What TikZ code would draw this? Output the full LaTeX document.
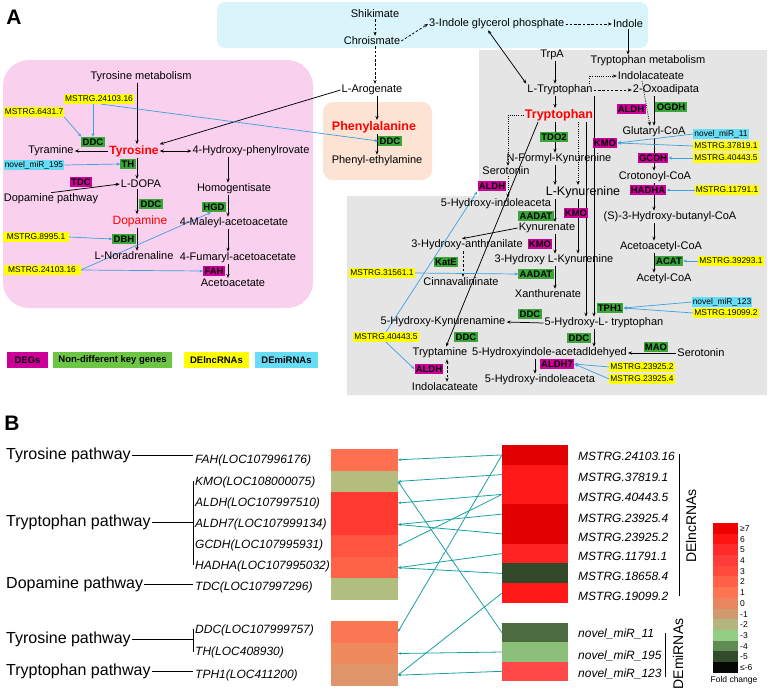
\documentclass[tikz,border=0pt]{standalone}
\usepackage{fontspec}
\setmainfont{Liberation Sans}
\usetikzlibrary{arrows.meta}
\pgfdeclarelayer{bg}\pgfdeclarelayer{lines}\pgfsetlayers{bg,lines,main}
\definecolor{mag}{RGB}{204,0,153}
\definecolor{grn}{RGB}{58,166,58}
\definecolor{lgrn}{RGB}{108,198,68}
\definecolor{ylw}{RGB}{255,255,0}
\definecolor{cyn}{RGB}{102,221,245}
\definecolor{blu}{RGB}{60,160,225}
\definecolor{pinkbg}{RGB}{249,208,238}
\definecolor{peachbg}{RGB}{252,227,211}
\definecolor{cyanbg}{RGB}{217,245,251}
\definecolor{greybg}{RGB}{229,229,229}
\definecolor{tealc}{RGB}{25,160,160}
% heat colours
\definecolor{hFAHc}{RGB}{255,112,80}
\definecolor{hKMOc}{RGB}{180,188,126}
\definecolor{hALDHc}{RGB}{255,58,48}
\definecolor{hGCDHc}{RGB}{255,85,64}
\definecolor{hHADHAc}{RGB}{255,99,71}
\definecolor{hTDCc}{RGB}{176,191,128}
\definecolor{hDDCc}{RGB}{250,118,84}
\definecolor{hTHc}{RGB}{238,138,94}
\definecolor{hTPHc}{RGB}{224,148,106}
\definecolor{rdark}{RGB}{224,0,0}
\definecolor{rmid}{RGB}{255,24,24}
\definecolor{rlight}{RGB}{255,36,36}
\definecolor{gdark}{RGB}{50,74,42}
\definecolor{mi1c}{RGB}{76,107,64}
\definecolor{mi2c}{RGB}{140,192,122}
\definecolor{mi3c}{RGB}{255,72,72}
\definecolor{sc1}{RGB}{238,0,0}
\definecolor{sc2}{RGB}{255,20,20}
\definecolor{sc3}{RGB}{255,42,42}
\definecolor{sc4}{RGB}{255,60,60}
\definecolor{sc5}{RGB}{255,74,60}
\definecolor{sc6}{RGB}{255,96,72}
\definecolor{sc7}{RGB}{255,117,82}
\definecolor{sc8}{RGB}{232,135,95}
\definecolor{sc9}{RGB}{208,154,110}
\definecolor{sc10}{RGB}{181,181,126}
\definecolor{sc11}{RGB}{146,207,132}
\definecolor{sc12}{RGB}{94,140,82}
\definecolor{sc13}{RGB}{51,74,43}
\definecolor{sc14}{RGB}{6,8,6}
\begin{document}
\begin{tikzpicture}[x=1pt,y=-1pt,
  lbl/.style={inner sep=1pt,font=\fontsize{11}{12}\selectfont},
  redlbl/.style={inner sep=1pt,text=red,font=\bfseries\fontsize{12.5}{13}\selectfont},
  tagb/.style={inner xsep=1.3pt,inner ysep=1.6pt,text height=7pt,text depth=0.2pt,font=\bfseries\fontsize{9.5}{10}\selectfont},
  tm/.style={tagb,fill=mag},
  tg/.style={tagb,fill=grn},
  ty/.style={inner xsep=1pt,inner ysep=1pt,text height=6.2pt,text depth=1.6pt,font=\fontsize{8.4}{9}\selectfont,fill=ylw},
  tc/.style={ty,fill=cyn},
  arr/.style={-{Stealth[length=4pt,width=3.2pt]},line width=0.75pt},
  darr/.style={{Stealth[length=4pt,width=3.2pt]}-{Stealth[length=4pt,width=3.2pt]},line width=0.75pt},
  barr/.style={-{Stealth[length=3.5pt,width=3pt]},line width=0.7pt,blu},
  dsh/.style={dash pattern=on 2.5pt off 1.8pt},
  dtt/.style={dash pattern=on 0.9pt off 1.3pt},
  legbox/.style={minimum height=16pt,inner sep=0pt,font=\bfseries\fontsize{9.5}{10}\selectfont},
  pw/.style={inner sep=1pt,font=\fontsize{16}{17}\selectfont},
  gl/.style={inner sep=1pt,font=\itshape\fontsize{12}{13}\selectfont},
  rl/.style={inner sep=1pt,font=\itshape\fontsize{12}{13}\selectfont},
  cellL/.style={minimum width=67pt,minimum height=21.7pt,inner sep=0pt,outer sep=0pt},
  cellR/.style={minimum width=66pt,minimum height=19.9pt,inner sep=0pt,outer sep=0pt},
  cellS/.style={minimum width=25pt,minimum height=10.9pt,inner sep=0pt,outer sep=0pt},
  tarr/.style={-{Stealth[length=3.2pt,width=2.6pt]},line width=0.8pt,tealc},
  bl/.style={line width=0.8pt}
]
\useasboundingbox (0,0) rectangle (768,691);
\begin{pgfonlayer}{bg}
\fill[cyanbg,rounded corners=8pt] (217,2) rectangle (648,48);
\fill[pinkbg,rounded corners=26pt] (3,60) rectangle (313,308);
\fill[peachbg,rounded corners=10pt] (323,102) rectangle (432,180);
\fill[greybg] (479,50) -- (767,50) -- (767,395) -- (347,395) -- (347,196) -- (479,196) -- cycle;
\end{pgfonlayer}

% column coordinates
\coordinate (cA) at (137,0);
\coordinate (cB) at (228,0);
\coordinate (cP) at (377,0);
\coordinate (cS) at (375,0);
\coordinate (cT) at (555,0);
\coordinate (cD) at (589,0);
\coordinate (cE) at (654,0);
\coordinate (cF) at (594,0);
\coordinate (cG) at (586,0);
\coordinate (cH) at (508,0);
\coordinate (cI) at (578,0);
\coordinate (cJ) at (463,0);
\coordinate (cK) at (535,0);
\coordinate (cL) at (447,0);

\node[font=\bfseries\fontsize{21}{21}\selectfont,inner sep=0pt] (labA) at (14,17) {A};
\node[font=\bfseries\fontsize{21}{21}\selectfont,inner sep=0pt] (labB) at (12,423) {B};

% cyan region
\node[lbl] (shik) at (375,14) {Shikimate};
\node[lbl] (chor) at (372,41) {Chroismate};
\node[lbl,anchor=west] (igp) at (428,24) {3-Indole glycerol phosphate};
\node[lbl] (indole) at (628,24) {Indole};

% pink region
\node[lbl] (tyrmet) at (141,77) {Tyrosine metabolism};
\node[ty] (m24103a) at (99,99) {MSTRG.24103.16};
\node[ty] (m6431) at (34,112) {MSTRG.6431.7};
\node[tg] (ddc1) at (93,142) {DDC};
\node[redlbl,font=\bfseries\fontsize{12}{13}\selectfont] (tyr) at (134,151) {Tyrosine};
\node[lbl] (tyra) at (51,151) {Tyramine};
\node[lbl] (hpp) at (251,151) {4-Hydroxy-phenylrovate};
\node[tg] (th) at (128,164) {TH};
\node[tc] (mir195) at (34,165) {novel\_miR\_195};
\node[tm] (tdc) at (81,182) {TDC};
\node[lbl] (ldopa) at (141,184) {L-DOPA};
\node[lbl] (dpath) at (51,199) {Dopamine pathway};
\node[lbl] (homo) at (234,189) {Homogentisate};
\node[tg] (ddc2) at (151,204) {DDC};
\node[tg] (hgd) at (214,207) {HGD};
\node[inner sep=1pt,text=red,font=\fontsize{12}{13}\selectfont] (dopa) at (140,221) {Dopamine};
\node[lbl] (mal) at (234,223) {4-Maleyl-acetoacetate};
\node[ty,minimum width=66pt] (m8995) at (36,237) {MSTRG.8995.1};
\node[tg] (dbh) at (124,239) {DBH};
\node[lbl] (nor) at (134,256) {L-Noradrenaline};
\node[lbl] (fum) at (238,258) {4-Fumaryl-acetoacetate};
\node[ty,minimum width=77pt] (m24103b) at (42,270) {MSTRG.24103.16};
\node[tm] (fah) at (214,271) {FAH};
\node[lbl] (acetoac) at (233,283) {Acetoacetate};

% phenylalanine
\node[lbl] (larog) at (372,90) {L-Arogenate};
\node[redlbl] (phe) at (374,127) {Phenylalanine};
\node[tg] (ddc6) at (390,141) {DDC};
\node[lbl] (pea) at (377,161) {Phenyl-ethylamine};

% grey upper
\node[lbl] (trpA) at (552,55) {TrpA};
\node[lbl] (trpmet) at (648,61) {Tryptophan metabolism};
\node[lbl] (indola) at (651,76) {Indolacateate};
\node[lbl] (ltrp) at (560,90) {L-Tryptophan};
\node[lbl] (oxo) at (666,90) {2-Oxoadipata};
\node[tm] (aldh1) at (631,109) {ALDH};
\node[tg] (ogdh) at (671,107) {OGDH};
\node[redlbl] (trp) at (559,115) {Tryptophan};
\node[lbl] (glut) at (654,132) {Glutaryl-CoA};
\node[tc] (mir11) at (721,134) {novel\_miR\_11};
\node[ty] (m37819) at (726,146) {MSTRG.37819.1};
\node[tm] (kmo1) at (605,143) {KMO};
\node[tm] (gcdh) at (653,158) {GCDH};
\node[ty] (m40443a) at (726,158) {MSTRG.40443.5};
\node[lbl] (crot) at (655,177) {Crotonoyl-CoA};
\node[tm] (hadha) at (648,190) {HADHA};
\node[ty] (m11791) at (727,190) {MSTRG.11791.1};
\node[lbl] (shb) at (670,217) {(S)-3-Hydroxy-butanyl-CoA};
\node[lbl] (acac) at (661,247) {Acetoacetyl-CoA};
\node[tg] (acat) at (669,261) {ACAT};
\node[ty] (m39293) at (731,261) {MSTRG.39293.1};
\node[lbl] (acetyl) at (664,279) {Acetyl-CoA};

% grey lower
\node[tg] (tdo2) at (554,137) {TDO2};
\node[lbl] (nfk) at (559,159) {N-Formyl-Kynurenine};
\node[lbl] (sero1) at (506,171) {Serotonin};
\node[tm] (aldh2) at (492,186) {ALDH};
\node[inner sep=1pt,font=\fontsize{12.5}{13}\selectfont] (lkyn) at (583,192) {L-Kynurenine};
\node[lbl] (hia3) at (496,204) {5-Hydroxy-indoleaceta};
\node[tm] (kmo2) at (576,213) {KMO};
\node[tg] (aadat1) at (536,216) {AADAT};
\node[lbl] (kyna) at (547,228) {Kynurenate};
\node[tm] (kmo3) at (540,244) {KMO};
\node[lbl] (hant) at (467,245) {3-Hydroxy-anthranilate};
\node[lbl] (hlk) at (554,260) {3-Hydroxy L-Kynurenine};
\node[tg] (kate) at (446,262) {KatE};
\node[ty] (m31561) at (382,273) {MSTRG.31561.1};
\node[tg] (aadat2) at (536,274) {AADAT};
\node[lbl] (cinn) at (461,282) {Cinnavalininate};
\node[lbl] (xan) at (548,294) {Xanthurenate};
\node[tc] (mir123) at (722,302) {novel\_miR\_123};
\node[tg] (tph1) at (610,308) {TPH1};
\node[ty] (m19099) at (726,313) {MSTRG.19099.2};
\node[tg] (ddc3) at (530,314) {DDC};
\node[lbl] (hkyn) at (443,322) {5-Hydroxy-Kynurenamine};
\node[lbl] (hlt) at (604,323) {5-Hydroxy-L- tryptophan};
\node[ty] (m40443b) at (386,337) {MSTRG.40443.5};
\node[tg] (ddc4) at (466,337) {DDC};
\node[tg] (ddc5) at (579,338) {DDC};
\node[tg] (mao) at (656,347) {MAO};
\node[lbl] (tryp) at (440,353) {Tryptamine};
\node[lbl] (hia) at (549.5,353) {5-Hydroxyindole-acetadldehyed};
\node[lbl] (sero2) at (701,353) {Serotonin};
\node[tm] (aldh7) at (557,364) {ALDH7};
\node[ty] (m23925b) at (642,367) {MSTRG.23925.2};
\node[tm] (aldh3) at (429,369) {ALDH};
\node[ty] (m23925a) at (642,379) {MSTRG.23925.4};
\node[lbl] (hia2) at (540,380) {5-Hydroxy-indoleaceta};
\node[lbl] (indola2) at (445,387) {Indolacateate};

% legend
\node[legbox,fill=mag,minimum width=41pt] (lg1) at (27.5,360) {DEGs};
\node[legbox,fill=lgrn,minimum width=119pt] (lg2) at (112.5,360) {Non-different key genes};
\node[legbox,fill=ylw,minimum width=65pt] (lg3) at (216.5,360) {DElncRNAs};
\node[legbox,fill=cyn,minimum width=63pt] (lg4) at (286.5,360) {DEmiRNAs};

\begin{pgfonlayer}{lines}
% cyan
\draw[arr,dsh] (shik.south -| cS) -- (chor.north -| cS);
\draw[arr,dsh] (chor.south -| cS) -- (larog.north -| cS);
\draw[arr,dsh] (chor.east) -- (igp.west);
\draw[arr,dsh] (igp.east) -- (indole.west);
\draw[arr] (indole.south) -- (indole.south |- trpmet.north);
\draw[darr] ([xshift=60pt]igp.south west) -- (ltrp.north west);
% pink
\draw[arr] (tyrmet.south -| cA) -- (tyr.north -| cA);
\draw[arr] (tyr.west) -- (tyra.east);
\draw[darr] (tyr.east) -- (hpp.west);
\draw[arr] (tyr.south -| cA) -- (ldopa.north -| cA);
\draw[arr] (dpath.north) -- (ldopa.west);
\draw[arr] (ldopa.south -| cA) -- (dopa.north -| cA);
\draw[arr] (dopa.south -| cA) -- (nor.north -| cA);
\draw[arr] (hpp.south -| cB) -- (homo.north -| cB);
\draw[arr] (homo.south -| cB) -- (mal.north -| cB);
\draw[arr] (mal.south -| cB) -- (fum.north -| cB);
\draw[arr] (fum.south -| cB) -- (acetoac.north -| cB);
\draw[arr] (larog.west) -- (tyr.north east);
\draw[arr] (larog.south -| cP) -- (phe.north -| cP);
\draw[arr] (phe.south -| cP) -- (pea.north -| cP);
\draw[barr] (m24103a.south -| ddc1) -- (ddc1.north);
\draw[barr] ([xshift=2pt]m24103a.south) -- (ddc6.west);
\draw[barr] (m6431.south east) -- (ddc1.north west);
\draw[barr] (mir195.east) -- (th.west);
\draw[barr] (m8995.east) -- (dbh.west);
\draw[barr] (m24103b.east) -- (fah.west);
\draw[barr] (m24103b.east) -- ([xshift=-3pt]hgd.south);
% grey
\draw[arr] (trpA.south -| cT) -- (ltrp.north -| cT);
\draw[arr] (ltrp.south -| cT) -- (trp.north -| cT);
\draw[arr,dtt] (ltrp.north -| cD) |- (indola.west);
\draw[arr,dsh] (ltrp.east) -- (oxo.west);
\draw[arr,dtt] ([xshift=-9pt]indola.south) -- ([xshift=-4pt]glut.north);
\draw[arr] (oxo.south -| cE) -- (glut.north -| cE);
\draw[arr] (glut.south -| cE) -- (crot.north -| cE);
\draw[arr] (crot.south -| cE) -- (shb.north -| cE);
\draw[arr] (shb.south -| cE) -- (acac.north -| cE);
\draw[arr] (acac.south -| cE) -- (acetyl.north -| cE);
\draw[arr] (ltrp.south -| cF) -- (hlt.north -| cF);
\draw[arr] (trp.south -| cG) -- (hlt.north -| cG);
\draw[arr,dtt] (trp.west) -| (sero1.north -| cH);
\draw[arr,dtt] (sero1.south -| cH) -- (hia3.north -| cH);
\draw[arr,dtt] (trp.south -| cI) -- (lkyn.north -| cI);
\draw[arr] (trp.south -| cT) -- (nfk.north -| cT);
\draw[arr] (nfk.south -| cT) -- (lkyn.north -| cT);
\draw[arr] (lkyn.south -| cT) -- (kyna.north -| cT);
\draw[arr] (kyna.south -| cT) -- (hlk.north -| cT);
\draw[arr] (hlk.south -| cT) -- (xan.north -| cT);
\draw[arr] (lkyn.south -| cI) -- (hlk.north -| cI);
\draw[arr] (kyna.west) -- ([xshift=-5pt]hant.north);
\draw[arr,dsh] (hant.south -| cJ) -- (cinn.north -| cJ);
\draw[arr] (hlt.west) -- (hkyn.east);
\draw[arr] (hlt.south -| cF) -- (hia.north -| cF);
\draw[arr] (sero2.west) -- (hia.east);
\draw[arr] (hia.south -| cK) -- (hia2.north -| cK);
\draw[arr] ([xshift=-21pt]trp.south) -- ([xshift=6pt]tryp.north);
\draw[darr,dsh] (tryp.south -| cL) -- (indola2.north -| cL);
\draw[barr] (mir11.west) -- (kmo1.east);
\draw[barr] (m37819.west) -- (kmo1.east);
\draw[barr] (m40443a.west) -- (gcdh.east);
\draw[barr] (m11791.west) -- (hadha.east);
\draw[barr] (m39293.west) -- (acat.east);
\draw[barr] (mir123.west) -- (tph1.east);
\draw[barr] (m19099.west) -- (tph1.east);
\draw[barr] (m23925b.west) -- (aldh7.east);
\draw[barr] (m23925a.west) -- (aldh7.east);
\draw[barr] (m31561.east) -- (aadat2.west);
\draw[barr] (m40443b.north) -- (aldh2.south west);
\draw[barr] (m40443b.south) -- (aldh3.west);
\end{pgfonlayer}

% ---------------- Panel B ----------------
\node[pw,anchor=west] (pt1) at (5,455) {Tyrosine pathway};
\node[pw,anchor=west] (pt2) at (5,522) {Tryptophan pathway};
\node[pw,anchor=west] (pt3) at (5,584) {Dopamine pathway};
\node[pw,anchor=west] (pt4) at (5,639) {Tyrosine pathway};
\node[pw,anchor=west] (pt5) at (5,671) {Tryptophan pathway};

\node[gl,anchor=west] (g1) at (194,460) {FAH(LOC107996176)};
\node[gl,anchor=west] (g2) at (194,482) {KMO(LOC108000075)};
\node[gl,anchor=west] (g3) at (194,503) {ALDH(LOC107997510)};
\node[gl,anchor=west] (g4) at (194,524) {ALDH7(LOC107999134)};
\node[gl,anchor=west] (g5) at (194,545) {GCDH(LOC107995931)};
\node[gl,anchor=west] (g6) at (194,566) {HADHA(LOC107995032)};
\node[gl,anchor=west] (g7) at (194,587) {TDC(LOC107997296)};
\node[gl,anchor=west] (g8) at (194,630) {DDC(LOC107999757)};
\node[gl,anchor=west] (g9) at (194,652) {TH(LOC408930)};
\node[gl,anchor=west] (g10) at (194,675) {TPH1(LOC411200)};

\coordinate (bA) at (193,481);
\coordinate (bB) at (193,565);
\coordinate (bC) at (193,629);
\coordinate (bD) at (193,652);
\draw[bl] (pt1.east) -- (pt1.east -| bA);
\draw[bl] (pt2.east) -- (pt2.east -| bA);
\draw[bl] (bA) -- (bB);
\draw[bl] (pt3.east) -- (pt3.east -| bA);
\draw[bl] (pt4.east) -- (pt4.east -| bA);
\draw[bl] (bC) -- (bD);
\draw[bl] (pt5.east) -- (pt5.east -| bA);

% left heat cells
\node[cellL,fill=hFAHc] (hFAH) at (364.5,459.8) {};
\node[cellL,fill=hKMOc] (hKMO) at (364.5,481.4) {};
\node[cellL,fill=hALDHc] (hALDH) at (364.5,503.0) {};
\node[cellL,fill=hALDHc] (hALDH7) at (364.5,524.5) {};
\node[cellL,fill=hGCDHc] (hGCDH) at (364.5,546.1) {};
\node[cellL,fill=hHADHAc] (hHADHA) at (364.5,567.7) {};
\node[cellL,fill=hTDCc] (hTDC) at (364.5,589.3) {};
\node[cellL,fill=hDDCc] (hDDC) at (364.5,631.8) {};
\node[cellL,fill=hTHc] (hTH) at (364.5,653.5) {};
\node[cellL,fill=hTPHc] (hTPH) at (364.5,675.2) {};

% right heat cells
\node[cellR,fill=rdark] (r1) at (535,454.9) {};
\node[cellR,fill=rmid] (r2) at (535,474.6) {};
\node[cellR,fill=rmid] (r3) at (535,494.4) {};
\node[cellR,fill=rdark] (r4) at (535,514.1) {};
\node[cellR,fill=rdark] (r5) at (535,533.9) {};
\node[cellR,fill=rlight] (r6) at (535,553.6) {};
\node[cellR,fill=gdark] (r7) at (535,573.4) {};
\node[cellR,fill=rmid] (r8) at (535,593.1) {};
\node[cellR,minimum height=19.5pt,fill=mi1c] (mi1) at (535,632.7) {};
\node[cellR,minimum height=19.5pt,fill=mi2c] (mi2) at (535,652.0) {};
\node[cellR,minimum height=19.5pt,fill=mi3c] (mi3) at (535,671.3) {};

\node[rl,anchor=west] (l1) at (577,456.5) {MSTRG.24103.16};
\node[rl,anchor=west] (l2) at (577,477) {MSTRG.37819.1};
\node[rl,anchor=west] (l3) at (577,497) {MSTRG.40443.5};
\node[rl,anchor=west] (l4) at (577,518) {MSTRG.23925.4};
\node[rl,anchor=west] (l5) at (577,537) {MSTRG.23925.2};
\node[rl,anchor=west] (l6) at (577,556) {MSTRG.11791.1};
\node[rl,anchor=west] (l7) at (577,576) {MSTRG.18658.4};
\node[rl,anchor=west] (l8) at (577,596) {MSTRG.19099.2};
\node[rl,anchor=west] (lm1) at (577,634) {novel\_miR\_11};
\node[rl,anchor=west] (lm2) at (577,656) {novel\_miR\_195};
\node[rl,anchor=west] (lm3) at (577,674) {novel\_miR\_123};

\coordinate (bE) at (679,454);
\coordinate (bF) at (679,596);
\coordinate (bG) at (665,633);
\coordinate (bH) at (665,677);
\draw[bl] (bE) -- (bF);
\draw[bl] (bG) -- (bH);
\node[rotate=90,inner sep=0pt,font=\fontsize{14}{15}\selectfont] (lncL) at (691,526) {DElncRNAs};
\node[rotate=90,inner sep=0pt,font=\fontsize{14}{15}\selectfont] (miL) at (678,654) {DEmiRNAs};

% teal connectors
\draw[tarr] (r1.west) -- (hFAH.east);
\draw[tarr] (r1.west) -- (hDDC.east);
\draw[tarr] (r2.west) -- (hKMO.east);
\draw[tarr] (r3.west) -- (hALDH.east);
\draw[tarr] (r3.west) -- (hGCDH.east);
\draw[tarr] (r4.west) -- (hALDH7.east);
\draw[tarr] (r5.west) -- (hALDH7.east);
\draw[tarr] (r6.west) -- (hHADHA.east);
\draw[tarr] (r7.west) -- (hHADHA.east);
\draw[tarr] (r8.west) -- (hTPH.east);
\draw[tarr] (mi1.west) -- (hKMO.east);
\draw[tarr] (mi2.west) -- (hTH.east);
\draw[tarr] (mi3.west) -- (hTPH.east);

% colour scale
\foreach \i in {1,...,14}{
  \node[cellS,fill=sc\i] (s\i) at (725.5,{523+(\i-0.5)*10.714}) {};
}
\foreach \t [count=\i] in {≥7,6,5,4,3,2,1,0,-1,-2,-3,-4,-5,≤-6}{
  \node[anchor=west,inner sep=0pt,font=\fontsize{8.5}{9}\selectfont] (sl\i) at (740,{523+(\i-0.5)*10.714}) {\t};
}
\node[inner sep=0pt,font=\fontsize{8.5}{9}\selectfont] (fold) at (734,680) {Fold change};
\end{tikzpicture}
\end{document}
